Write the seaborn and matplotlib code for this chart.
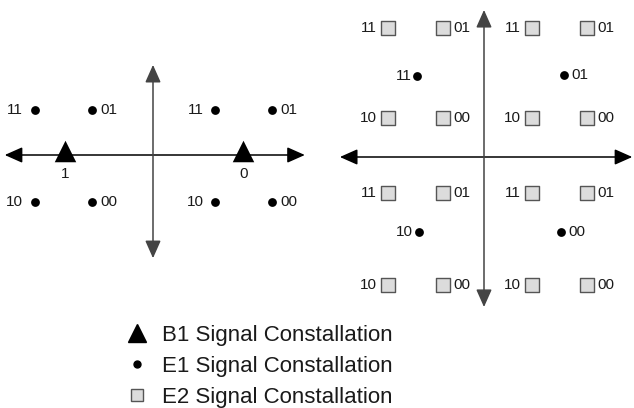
import matplotlib
matplotlib.use("Agg")
import matplotlib.pyplot as plt
from matplotlib.lines import Line2D
import seaborn as sns
import pandas as pd

sns.set_theme(style="white")
plt.rcParams['font.family'] = ['Liberation Sans', 'DejaVu Sans']

# left diagram: B1 (triangles) and E1 (dots)
b1_x = [-1.48, 1.52]
b1_y = [0.07, 0.07]
b1_lab = ["1", "0"]

e1l_x = [-1.99, -1.03, 1.05, 2.0, -1.99, -1.03, 1.05, 2.0]
e1l_y = [0.76, 0.76, 0.76, 0.76, -0.8, -0.8, -0.8, -0.8]
e1l_lab = ["11", "01", "11", "01", "10", "00", "10", "00"]
e1l_side = ["L", "R", "L", "R", "L", "R", "L", "R"]

# right diagram: E1 (dots) and E2 (squares)
e1r_x = [-1.13, 1.35, -1.10, 1.30]
e1r_y = [1.37, 1.38, -1.26, -1.26]
e1r_lab = ["11", "01", "10", "00"]
e1r_side = ["L", "R", "L", "R"]

e2_x = [-1.62, -0.69, -1.62, -0.69, 0.81, 1.74, 0.81, 1.74,
        -1.62, -0.69, -1.62, -0.69, 0.81, 1.74, 0.81, 1.74]
e2_y = [2.18, 2.18, 0.66, 0.66, 2.18, 2.18, 0.66, 0.66,
        -0.61, -0.61, -2.16, -2.16, -0.61, -0.61, -2.16, -2.16]
e2_lab = ["11", "01", "10", "00", "11", "01", "10", "00",
          "11", "01", "10", "00", "11", "01", "10", "00"]
e2_side = ["L", "R", "L", "R", "L", "R", "L", "R",
           "L", "R", "L", "R", "L", "R", "L", "R"]

legend_labels = ["B1 Signal Constallation", "E1 Signal Constallation", "E2 Signal Constallation"]

# axis arrow extents (x0, x1, y0, y1)
left_arrows = (-2.5, 2.56, -1.74, 1.52)
right_arrows = (-2.43, 2.5, -2.53, 2.48)

SQ_FACE = "#dcdcdc"
SQ_EDGE = "#555555"
TXT = "#1a1a1a"

fig = plt.figure(figsize=(6.34, 4.08), dpi=100)
W, H = 634., 408.
S = 308.4  # axes size in px for +-2.6 units


def make_ax(cx, cy):
    ax = fig.add_axes([(cx - S / 2) / W, (H - cy - S / 2) / H, S / W, S / H])
    ax.set_xlim(-2.6, 2.6)
    ax.set_ylim(-2.6, 2.6)
    ax.axis('off')
    return ax


def draw_arrows(ax, ext):
    x0, x1, y0, y1 = ext
    style = '<|-|>,head_length=0.9,head_width=0.4'
    ax.annotate('', xy=(x1, 0), xytext=(x0, 0),
                arrowprops=dict(arrowstyle=style, color='black', lw=1.1, shrinkA=0, shrinkB=0))
    ax.annotate('', xy=(0, y1), xytext=(0, y0),
                arrowprops=dict(arrowstyle=style, color='#444444', lw=1.1, shrinkA=0, shrinkB=0))


def side_labels(ax, xs, ys, labs, sides, gap_l, gap_r):
    for x, y, t, s in zip(xs, ys, labs, sides):
        if s == "L":
            ax.annotate(t, (x, y), xytext=(-gap_l, 0), textcoords='offset points',
                        ha='right', va='center', fontsize=11, color=TXT)
        else:
            ax.annotate(t, (x, y), xytext=(gap_r, 0), textcoords='offset points',
                        ha='left', va='center', fontsize=11, color=TXT)


# ---- left panel
axl = make_ax(153, 155)
draw_arrows(axl, left_arrows)
df_b1 = pd.DataFrame({'x': b1_x, 'y': b1_y})
sns.scatterplot(data=df_b1, x='x', y='y', ax=axl, marker='^', s=240, color='black',
                edgecolor='black', linewidth=0, zorder=5, legend=False)
for x, y, t in zip(b1_x, b1_y, b1_lab):
    axl.annotate(t, (x, 0), xytext=(0, -9), textcoords='offset points',
                 ha='center', va='top', fontsize=11, color=TXT)
df_e1l = pd.DataFrame({'x': e1l_x, 'y': e1l_y})
sns.scatterplot(data=df_e1l, x='x', y='y', ax=axl, marker='o', s=40, color='black',
                edgecolor='black', linewidth=0, zorder=5, legend=False)
side_labels(axl, e1l_x, e1l_y, e1l_lab, e1l_side, 8.5, 6)
axl.axis('off')

# ---- right panel
axr = make_ax(484, 157)
draw_arrows(axr, right_arrows)
df_e2 = pd.DataFrame({'x': e2_x, 'y': e2_y})
sns.scatterplot(data=df_e2, x='x', y='y', ax=axr, marker='s', s=90, color=SQ_FACE,
                edgecolor=SQ_EDGE, linewidth=1, zorder=5, legend=False)
side_labels(axr, e2_x, e2_y, e2_lab, e2_side, 8, 7.5)
df_e1r = pd.DataFrame({'x': e1r_x, 'y': e1r_y})
sns.scatterplot(data=df_e1r, x='x', y='y', ax=axr, marker='o', s=40, color='black',
                edgecolor='black', linewidth=0, zorder=5, legend=False)
side_labels(axr, e1r_x, e1r_y, e1r_lab, e1r_side, 4, 5)
axr.axis('off')

# ---- legend
handles = [
    Line2D([], [], linestyle='none', marker='^', markersize=13, color='black'),
    Line2D([], [], linestyle='none', marker='o', markersize=5, color='black'),
    Line2D([], [], linestyle='none', marker='s', markersize=8, markerfacecolor=SQ_FACE,
           markeredgecolor=SQ_EDGE, markeredgewidth=1),
]
fig.legend(handles, legend_labels, loc='upper left', bbox_to_anchor=(115 / W, 1 - 314 / H),
           frameon=False, fontsize=16, handlelength=1.0, handletextpad=0.6,
           labelspacing=0.45, borderpad=0, labelcolor=TXT)

fig.savefig("out.png", dpi=100)
